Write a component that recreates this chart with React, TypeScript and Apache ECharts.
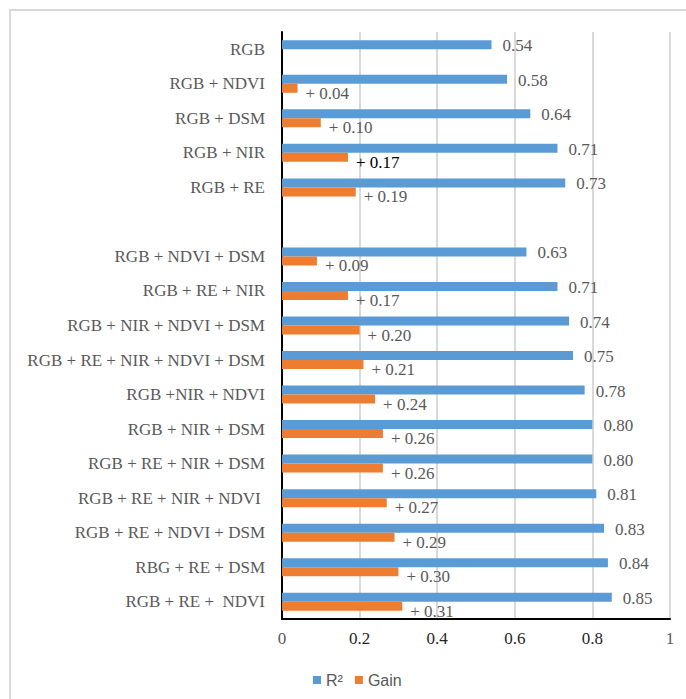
import React, { useEffect, useRef } from "react";
import * as echarts from "echarts";

const categories = [
  "RGB",
  "RGB + NDVI",
  "RGB + DSM",
  "RGB + NIR",
  "RGB + RE",
  "",
  "RGB + NDVI + DSM",
  "RGB + RE + NIR",
  "RGB + NIR + NDVI + DSM",
  "RGB + RE + NIR + NDVI + DSM",
  "RGB +NIR + NDVI",
  "RGB + NIR + DSM",
  "RGB + RE + NIR + DSM",
  "RGB + RE + NIR + NDVI ",
  "RGB + RE + NDVI + DSM",
  "RBG + RE + DSM",
  "RGB + RE +  NDVI",
];
const r2Values: (number | null)[] = [0.54, 0.58, 0.64, 0.71, 0.73, null, 0.63, 0.71, 0.74, 0.75, 0.78, 0.8, 0.8, 0.81, 0.83, 0.84, 0.85];
const gainValues: (number | null)[] = [null, 0.04, 0.1, 0.17, 0.19, null, 0.09, 0.17, 0.2, 0.21, 0.24, 0.26, 0.26, 0.27, 0.29, 0.3, 0.31];
const darkGainIndex = [3];
const xMin = 0;
const xMax = 1;
const xInterval = 0.2;

const SERIF = "'Liberation Serif', 'DejaVu Serif', serif";
const GRAY = "#595959";

export default function App() {
  const ref = useRef<HTMLDivElement>(null);
  useEffect(() => {
    if (!ref.current) return;
    const chart = echarts.init(ref.current, null, { renderer: "svg" });
    const r2Data = r2Values.map((v) => (v == null ? "-" : v));
    const gainData = gainValues.map((v, i) =>
      v == null
        ? "-"
        : darkGainIndex.includes(i)
        ? { value: v, label: { color: "#000000" } }
        : v
    );
    chart.setOption({
      animation: false,
      backgroundColor: "#ffffff",
      graphic: [
        {
          type: "rect",
          shape: { x: 10, y: 10, width: 700, height: 710 },
          style: { fill: "none", stroke: "#d9d9d9", lineWidth: 2 },
          silent: true,
        },
      ],
      grid: { left: 282, right: 16, top: 32, bottom: 80, containLabel: false },
      legend: {
        left: 308,
        top: 667,
        icon: "rect",
        itemWidth: 8,
        itemHeight: 8,
        itemGap: 12,
        textStyle: { fontFamily: "'Liberation Sans', 'Open Sans', sans-serif", fontSize: 16, color: GRAY },
        data: ["R²", "Gain"],
      },
      xAxis: {
        type: "value",
        min: xMin,
        max: xMax,
        interval: xInterval,
        axisLine: { show: true, lineStyle: { color: "#000000", width: 2 } },
        axisTick: { show: false },
        splitLine: { show: true, lineStyle: { color: "#d9d9d9", width: 2 } },
        axisLabel: {
          margin: 11,
          formatter: (v: number) => {
            const s = String(Math.round(v * 10) / 10);
            return v === xMin || v === xMax ? `{g|${s}}` : `{d|${s}}`;
          },
          rich: {
            g: { fontFamily: SERIF, fontSize: 17, color: GRAY },
            d: { fontFamily: SERIF, fontSize: 17, color: "#262626" },
          },
        },
      },
      yAxis: {
        type: "category",
        inverse: true,
        data: categories,
        axisLine: { show: true, lineStyle: { color: "#000000", width: 2 } },
        axisTick: { show: false },
        axisLabel: { margin: 17, fontFamily: SERIF, fontSize: 17, color: GRAY },
      },
      series: [
        {
          name: "R²",
          type: "bar",
          data: r2Data,
          barWidth: 9,
          barGap: "0%",
          itemStyle: { color: "#5b9bd5" },
          label: {
            show: true,
            position: "right",
            distance: 11,
            offset: [0, 1],
            fontFamily: SERIF,
            fontSize: 17,
            color: GRAY,
            formatter: (p: any) => Number(p.value).toFixed(2),
          },
        },
        {
          name: "Gain",
          type: "bar",
          data: gainData,
          barWidth: 9,
          barGap: "0%",
          itemStyle: { color: "#ed7d31" },
          label: {
            show: true,
            position: "right",
            distance: 8,
            offset: [0, 5],
            fontFamily: SERIF,
            fontSize: 17,
            color: GRAY,
            formatter: (p: any) => "+ " + Number(p.value).toFixed(2),
          },
        },
      ],
    });
    return () => chart.dispose();
  }, []);
  return (
    <div
      ref={ref}
      style={{ position: "absolute", left: 0, top: 0, width: 686, height: 699 }}
    />
  );
}
